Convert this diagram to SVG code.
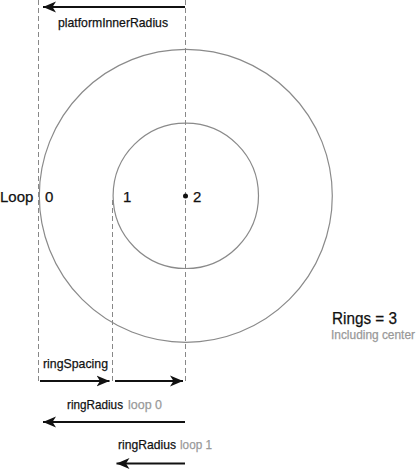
<svg xmlns="http://www.w3.org/2000/svg" width="420" height="470" viewBox="0 0 420 470">
<style>
.t{font-family:"Liberation Sans",Arial,sans-serif;fill:#111;stroke:#111;stroke-width:0.25}
.g{fill:#999;stroke:#999}
.dash{stroke:#888;stroke-width:1;stroke-dasharray:5,3;fill:none}
.ring{stroke:#8a8a8a;stroke-width:1.2;fill:none}
.arr{stroke:#111;stroke-width:2.2;fill:none;marker-end:url(#ah)}
</style>
<defs>
<marker id="ah" markerUnits="userSpaceOnUse" markerWidth="14" markerHeight="12" refX="13" refY="5.5" orient="auto" viewBox="0 0 14 11">
<path d="M0,0 L13,5.5 L0,11 L3.5,5.5 z" fill="#111"/>
</marker>
</defs>
<g id="guides">
<line class="dash" x1="38.5" y1="0" x2="38.5" y2="384"/>
<line class="dash" x1="112.5" y1="200" x2="112.5" y2="384"/>
<line class="dash" x1="185.5" y1="0" x2="185.5" y2="384"/>
</g>
<g id="outer-ring"><circle class="ring" cx="185.8" cy="195.8" r="146.5"/></g>
<g id="inner-ring"><circle class="ring" cx="185.8" cy="195.8" r="72.7"/></g>
<g id="center"><circle cx="185.5" cy="196" r="2.5" fill="#111"/></g>
<g id="connectors">
<line class="arr" x1="185" y1="7" x2="43" y2="7"/>
<line class="arr" x1="40" y1="381" x2="109.5" y2="381"/>
<line class="arr" x1="115" y1="381" x2="183" y2="381"/>
<line class="arr" x1="185" y1="422" x2="43" y2="422"/>
<line class="arr" x1="185" y1="463.5" x2="116.5" y2="463.5"/>
</g>
<g id="labels">
<text class="t" x="58" y="26.5" font-size="13.5" textLength="110" lengthAdjust="spacingAndGlyphs">platformInnerRadius</text>
<text class="t" x="0" y="201.5" font-size="15">Loop</text>
<text class="t" x="45" y="201.5" font-size="15">0</text>
<text class="t" x="123" y="201.5" font-size="15">1</text>
<text class="t" x="193" y="201.5" font-size="15">2</text>
<text class="t" x="332" y="324" font-size="16" textLength="65" lengthAdjust="spacingAndGlyphs">Rings = 3</text>
<text class="t g" x="331" y="338.5" font-size="12" textLength="84" lengthAdjust="spacingAndGlyphs">Including center</text>
<text class="t" x="43" y="368" font-size="13.5" textLength="65" lengthAdjust="spacingAndGlyphs">ringSpacing</text>
<text class="t" x="67" y="408.5" font-size="13.5" textLength="56" lengthAdjust="spacingAndGlyphs">ringRadius</text>
<text class="t g" x="128" y="408.5" font-size="13.5" textLength="34" lengthAdjust="spacingAndGlyphs">loop 0</text>
<text class="t" x="118" y="449" font-size="13.5" textLength="58" lengthAdjust="spacingAndGlyphs">ringRadius</text>
<text class="t g" x="180" y="449" font-size="13.5" textLength="32" lengthAdjust="spacingAndGlyphs">loop 1</text>
</g>
</svg>
